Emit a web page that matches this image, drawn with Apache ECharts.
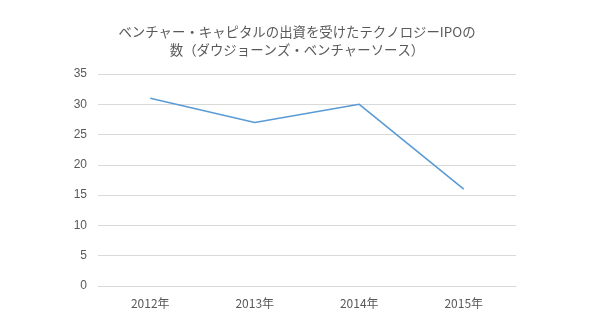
<!DOCTYPE html>
<html><head><meta charset="utf-8">
<script src="https://cdn.jsdelivr.net/npm/echarts@6/dist/echarts.min.js"></script>
<style>html,body{margin:0;padding:0;background:#fff}#c{width:594px;height:334px}</style>
</head><body><div id="c"></div>
<script>
const titleText = "ベンチャー・キャピタルの出資を受けたテクノロジーIPOの\n数（ダウジョーンズ・ベンチャーソース）";
const categories = ["2012年", "2013年", "2014年", "2015年"];
const values = [31, 27, 30, 16];
const yMin = 0, yMax = 35, yInterval = 5;

const chart = echarts.init(document.getElementById('c'), null, {renderer: 'canvas'});
chart.setOption({
  animation: false,
  backgroundColor: '#ffffff',
  title: {
    text: titleText,
    left: 'center',
    top: 18,
    textStyle: {fontFamily: '"Noto Sans CJK JP", sans-serif', fontSize: 13.4, fontWeight: 'normal', color: '#595959', lineHeight: 18}
  },
  grid: {left: 98, right: 78, top: 74, bottom: 48, containLabel: false},
  xAxis: {
    type: 'category',
    data: categories,
    boundaryGap: true,
    axisLine: {lineStyle: {color: '#d9d9d9', width: 1}},
    axisTick: {show: false},
    axisLabel: {color: '#595959', fontSize: 12, margin: 11, fontFamily: '"Noto Sans CJK JP", sans-serif'}
  },
  yAxis: {
    type: 'value',
    min: yMin, max: yMax, interval: yInterval,
    axisLine: {show: false},
    axisTick: {show: false},
    splitLine: {lineStyle: {color: '#d9d9d9', width: 1}},
    axisLabel: {color: '#595959', fontSize: 12, margin: 11, fontFamily: 'Liberation Sans, sans-serif'}
  },
  series: [{
    type: 'line',
    data: values,
    symbol: 'none',
    lineStyle: {color: '#5b9bd5', width: 1.6},
    itemStyle: {color: '#5b9bd5'}
  }]
});
</script></body></html>
